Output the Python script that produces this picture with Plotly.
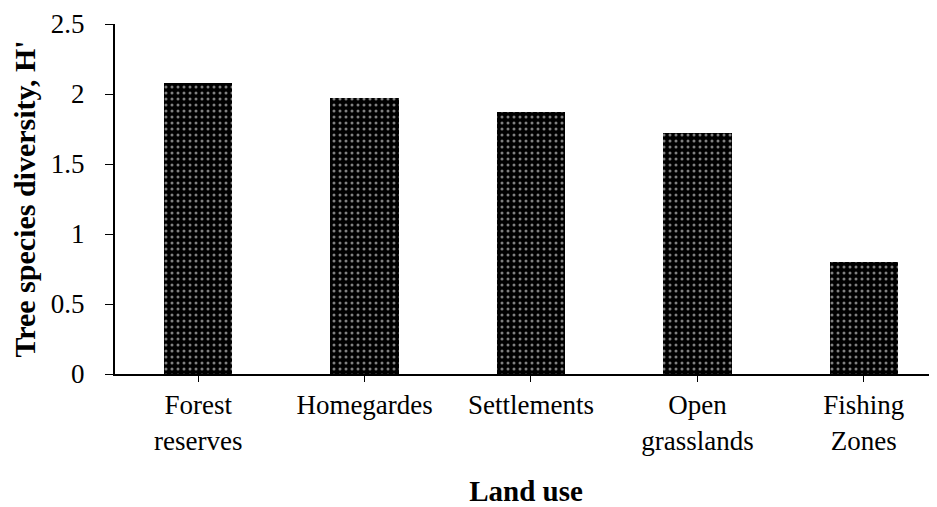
import plotly.graph_objects as go

categories = ["Forest<br>reserves", "Homegardes", "Settlements", "Open<br>grasslands", "Fishing<br>Zones"]
diversity = [2.08, 1.97, 1.87, 1.72, 0.80]
y_ticks = [0, 0.5, 1, 1.5, 2, 2.5]
y_tick_labels = ["0", "0.5", "1", "1.5", "2", "2.5"]

font = "Liberation Serif"

fig = go.Figure(go.Bar(
    x=list(range(len(categories))),
    y=diversity,
    width=0.41,
    marker=dict(
        color="black",
        line=dict(width=0),
        pattern=dict(shape=".", fgcolor="white", bgcolor="black", size=6, solidity=0.2),
    ),
))

fig.update_layout(
    width=929, height=499,
    margin=dict(l=107, r=0, t=16, b=133, autoexpand=False),
    paper_bgcolor="white", plot_bgcolor="white",
    showlegend=False,
    font=dict(family=font, color="black", size=27),
    bargap=0,
)
fig.update_xaxes(
    tickmode="array", tickvals=list(range(len(categories))), ticktext=categories,
    range=[-0.5, 4.44], showline=True, linecolor="black", linewidth=2,
    ticks="outside", tickson="boundaries", ticklen=6, tickcolor="black",
    showgrid=False, zeroline=False,
    tickfont=dict(family=font, size=27),
    title=dict(text="<b>Land use</b>", font=dict(family=font, size=29), standoff=26),
)
fig.update_yaxes(
    range=[0, 2.5], tickmode="array", tickvals=y_ticks, ticktext=y_tick_labels,
    showline=True, linecolor="black", linewidth=2,
    ticks="outside", ticklen=8, tickcolor="black", ticklabelstandoff=15,
    showgrid=False, zeroline=False,
    tickfont=dict(family=font, size=27),
    title=dict(text="<b>Tree species diversity, H'</b>", font=dict(family=font, size=30), standoff=8),
)

fig.write_html("out.html")
